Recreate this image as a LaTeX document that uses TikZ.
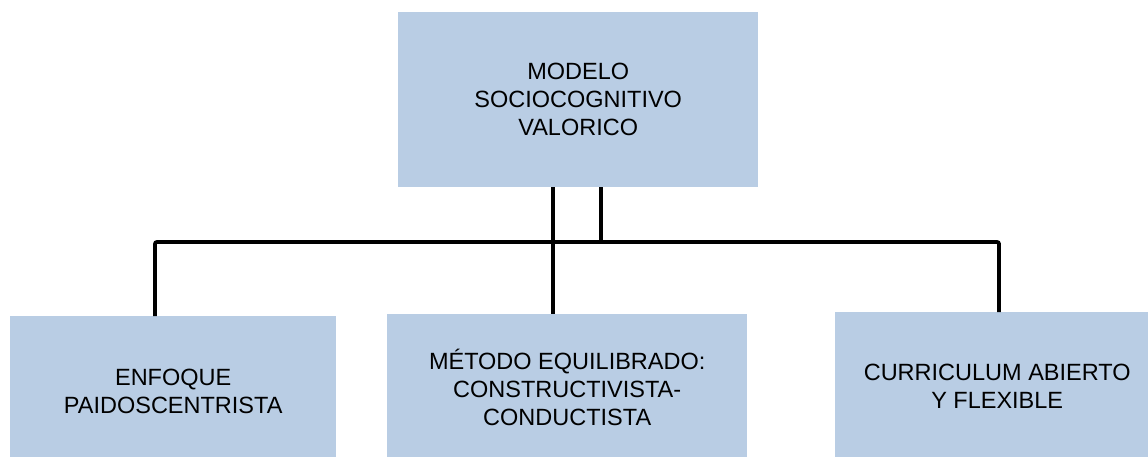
\documentclass[tikz,border=0pt]{standalone}
\usepackage{fontspec}
\setmainfont{Liberation Sans}
\definecolor{boxfill}{RGB}{185,205,228}
\begin{document}
\begin{tikzpicture}[x=1pt,y=-1pt,
  box/.style={fill=boxfill,draw=none,anchor=north west,align=center,inner sep=0pt,
    font=\fontsize{23.5}{27.8}\selectfont},
  conn/.style={line width=3.8pt,draw=black,line cap=butt}]
\clip (0,0) rectangle (1148,456);
\fill[white] (0,0) rectangle (1148,456);
\node[box,minimum width=360pt,minimum height=175pt] (top) at (398,12) {MODELO\\SOCIOCOGNITIVO\\VALORICO};
\node[box,minimum width=326pt,minimum height=150pt] (left) at (10,316) {ENFOQUE\\PAIDOSCENTRISTA};
\node[box,minimum width=360pt,minimum height=146pt] (mid) at (387,314) {MÉTODO EQUILIBRADO:\\CONSTRUCTIVISTA-\\CONDUCTISTA};
\node[box,minimum width=324pt,minimum height=148pt] (right) at (835,312) {CURRICULUM ABIERTO\\Y FLEXIBLE};
\coordinate (a) at (553,242);
\coordinate (b) at (601,242);
\coordinate (cl) at (155,242);
\coordinate (cr) at (999,242);
\draw[conn] (top.south -| a) -- (mid.north -| a);
\draw[conn] (top.south -| b) -- (b);
\draw[conn,rounded corners=2pt] (left.north -| cl) -- (cl) -- (cr) -- (right.north -| cr);
\end{tikzpicture}
\end{document}
